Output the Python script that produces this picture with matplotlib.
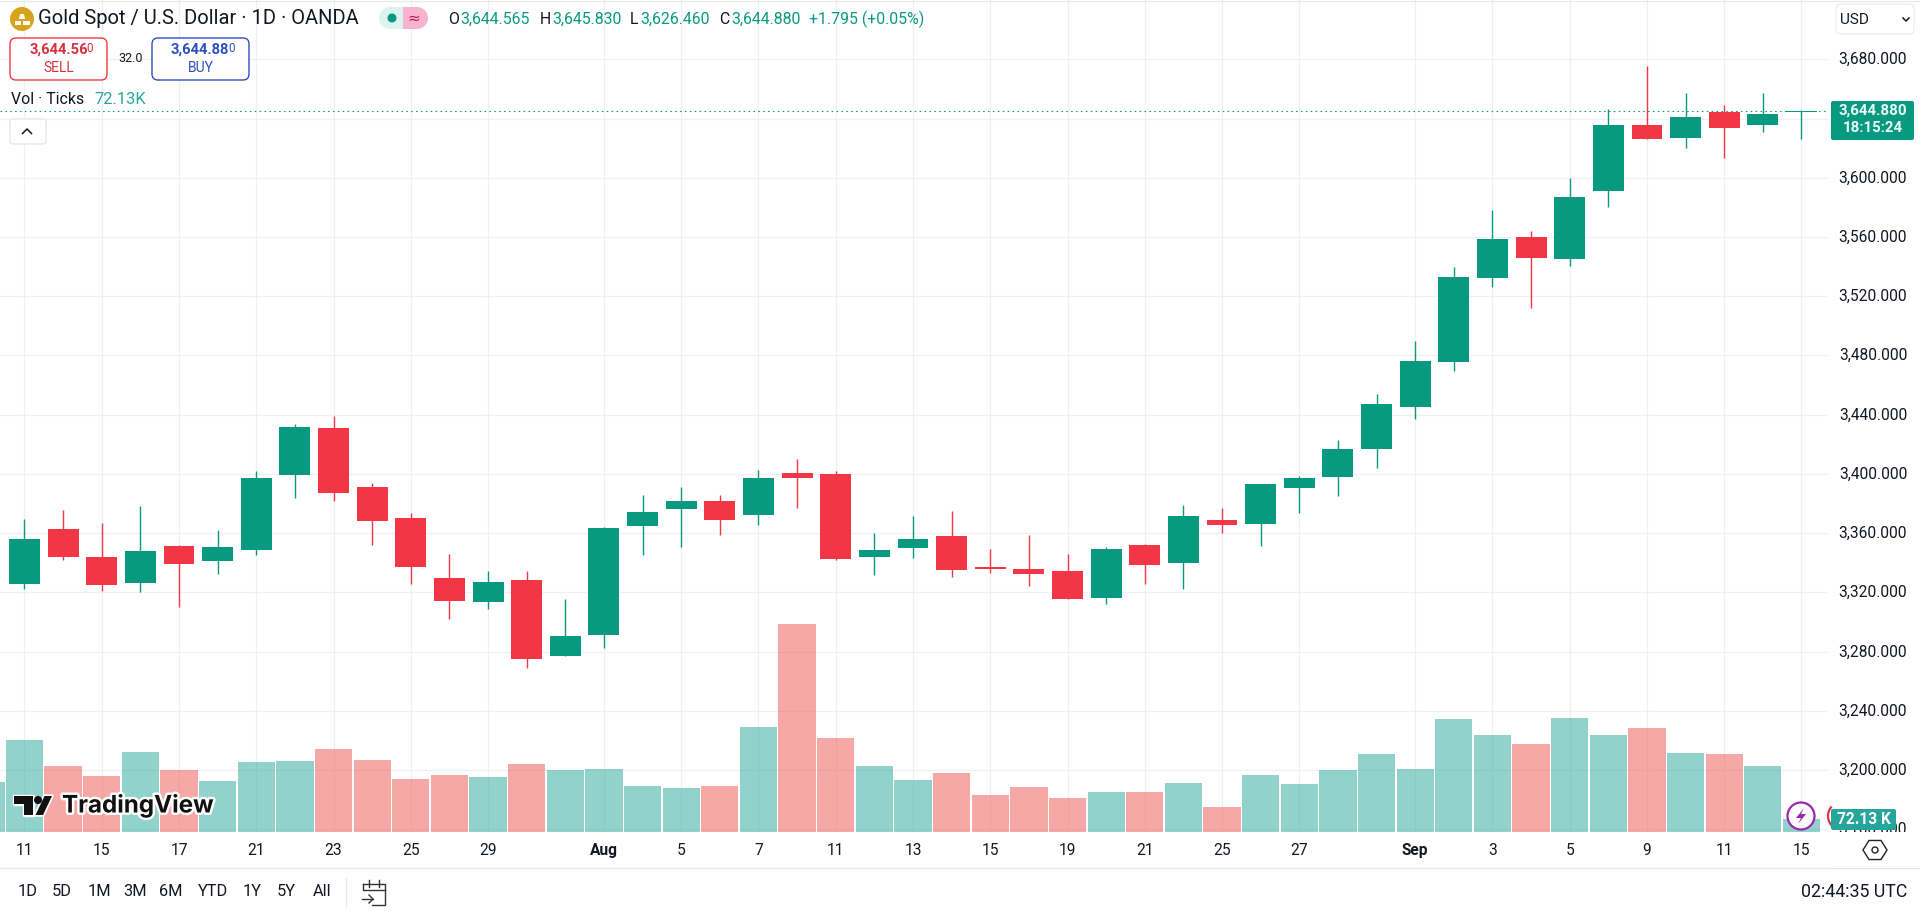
import matplotlib
matplotlib.use("Agg")
import matplotlib.pyplot as plt
import matplotlib.patheffects as pe
from matplotlib.patches import Rectangle, FancyBboxPatch, Circle, Polygon, Wedge
from matplotlib.transforms import ScaledTranslation
import numpy as np

opens = [3325.6,3362.6,3343.6,3326.3,3351.1,3341.2,3348.6,3399.2,3430.8,3390.9,3370.0,3329.5,3313.5,3328.1,3277.0,3291.2,
         3364.8,3376.3,3381.5,3372.2,3400.4,3399.7,3343.9,3349.9,3357.8,3337.1,3335.5,3334.2,3316.2,3351.7,3339.8,3368.6,
         3366.0,3390.3,3397.7,3416.7,3445.0,3475.4,3532.2,3560.3,3545.0,3591.0,3636.0,3626.8,3644.4,3635.6,3644.565]
highs = [3369.3,3375.4,3366.6,3378.1,3352.2,3361.9,3401.7,3433.5,3438.9,3393.6,3373.8,3345.9,3334.2,3334.2,3315.3,3363.9,
         3385.5,3390.9,3385.5,3402.4,3409.8,3401.7,3359.8,3371.3,3374.7,3349.3,3358.5,3345.7,3350.4,3352.4,3378.8,3376.7,
         3393.5,3398.6,3423.2,3454.3,3489.8,3540.0,3578.5,3564.4,3600.2,3646.6,3675.5,3657.6,3649.5,3657.0,3645.83]
lows  = [3322.0,3341.8,3320.9,3320.0,3310.1,3332.4,3345.0,3383.7,3381.7,3352.0,3325.6,3301.8,3308.7,3268.9,3277.0,3282.4,
         3345.2,3350.4,3358.5,3365.3,3377.0,3341.8,3331.7,3343.0,3330.4,3333.1,3324.3,3315.5,3312.1,3325.6,3322.3,3359.8,
         3351.6,3373.9,3384.9,3404.3,3437.4,3469.8,3526.5,3511.9,3540.3,3580.2,3626.1,3620.0,3613.3,3630.8,3626.46]
closes= [3355.8,3343.9,3325.0,3347.7,3339.1,3350.4,3397.0,3431.4,3387.1,3368.2,3337.1,3314.1,3326.8,3275.0,3290.3,3363.2,
         3374.0,3381.5,3368.9,3397.0,3397.2,3342.5,3348.4,3355.8,3335.1,3335.5,3332.4,3315.5,3349.0,3338.5,3371.3,3365.5,
         3393.5,3397.5,3417.1,3447.5,3476.5,3533.3,3559.0,3545.7,3587.0,3636.0,3626.1,3640.8,3633.5,3642.8,3644.88]
# Tick volume in thousands; the first entry is the partly hidden bar before the first candle.
volumes = [284,521,373,316,453,350,288,396,401,470,407,299,322,311,384,350,356,
           259,248,259,595,1180,532,373,294,333,208,254,191,225,225,277,140,
           322,271,350,441,356,640,549,498,646,549,589,447,441,373,72.13]
vol_up = [1,1,0,0,1,0,1,1,1,0,0,0,0,1,0,1,1,
          1,1,0,1,0,0,1,1,0,0,0,0,1,0,1,0,
          1,1,1,1,1,1,1,0,1,1,0,1,0,1,1]
tick_idx = [0,2,4,6,8,10,12,15,17,19,21,23,25,27,29,31,33,36,38,40,42,44,46]
tick_lab = ["11","15","17","21","23","25","29","Aug","5","7","11","13","15","19","21","25","27","Sep","3","5","9","11","15"]
price_ticks = list(range(3160, 3681, 40))
hidden_price = 3640  # sits behind the last-price tag in the reference
last_price = 3644.88

GREEN="#089981"; RED="#F23645"; INK="#131722"; GRID="#EEF0F3"
plt.rcParams['font.family'] = ['Roboto', 'DejaVu Sans']
W,H = 1920,911
fig = plt.figure(figsize=(W/100,H/100), dpi=100, facecolor="white")

left,right,top,bottom = 0,1828,0,832
ax = fig.add_axes([left/W, 1-bottom/H, (right-left)/W, (bottom-top)/H])
ax.set_xlim((0-24.5)/38.63, (1828-24.5)/38.63)
ax.set_ylim(3680-(832-59.4)/1.4805, 3680+59.4/1.4805)
for s in ax.spines.values(): s.set_visible(False)
ax.set_axisbelow(True)
ax.grid(True, color=GRID, lw=0.9)

x = np.arange(len(opens))
cols = [GREEN if c>=o else RED for o,c in zip(opens,closes)]
ax.axhline(last_price, color=GREEN, lw=0.8, ls=(0,(1.4,3)), zorder=1)
ax.vlines(x, lows, highs, colors=cols, lw=1.0, zorder=2)
ax.bar(x, np.abs(np.array(closes)-np.array(opens)), bottom=np.minimum(opens,closes), width=0.80, color=cols, lw=0, zorder=3)

axv = ax.twinx()
axv.set_ylim(0, (bottom-top)*5.68)
axv.patch.set_visible(False)
for s in axv.spines.values(): s.set_visible(False)
axv.set_yticks([])
xv = np.arange(-1, len(volumes)-1)
axv.bar(xv, volumes, width=0.965, lw=0, color=["#26A69A" if u else "#EF5350" for u in vol_up], alpha=0.5)

ax.set_xticks(tick_idx)
ax.set_xticklabels(tick_lab, fontsize=11.2, color=INK, va="center")
for t,l in zip(ax.get_xticklabels(), tick_lab):
    if l in ("Aug","Sep"): t.set_fontweight("bold")
ax.tick_params(axis="x", length=0, pad=13)
ax.yaxis.tick_right()
ax.set_yticks(price_ticks)
ax.set_yticklabels(["" if p==hidden_price else f"{p:,.3f}" for p in price_ticks], fontsize=11.2, color=INK, ha="right")
ax.tick_params(axis="y", length=0, pad=57)
shift = ScaledTranslation(0, 1.2/100, fig.dpi_scale_trans)
for t in ax.get_yticklabels():
    t.set_transform(t.get_transform() + shift)
ax.set_zorder(1); axv.set_zorder(2)

# Interface overlay in pixel coordinates
ui = fig.add_axes([0,0,1,1], zorder=10)
ui.set_xlim(0,W); ui.set_ylim(H,0); ui.axis("off"); ui.patch.set_visible(False)
def T(px,py,s,size=10.5,c=INK,ha="left",w="normal",z=12,**k):
    return ui.text(px,py,s,fontsize=size,color=c,ha=ha,va="center",fontweight=w,zorder=z,**k)
def box(x0,y0,x1,y1,fc="white",ec="none",lw=1,r=4,z=11):
    p=FancyBboxPatch((x0+r,y0+r),x1-x0-2*r,y1-y0-2*r,boxstyle=f"round,pad={r},rounding_size={r}",fc=fc,ec=ec,lw=lw,zorder=z)
    ui.add_patch(p); return p

ui.add_patch(Rectangle((1829,832),91,36,fc="white",ec="none",zorder=9))
ui.plot([0,W],[0.5,0.5],color="#E6E8EC",lw=0.8,zorder=2)
ui.plot([0,W],[867.5,867.5],color="#E6E8EC",lw=0.9,zorder=2)

# Header
ui.add_patch(Circle((22,19),12,fc="#D9A21B",ec="none",zorder=11))
ui.add_patch(Polygon([(19,19),(25,19),(24,14),(20,14)],fc="white",ec="none",zorder=12))
ui.add_patch(Rectangle((14.5,20.5),6.5,4,fc="white",ec="none",zorder=12))
ui.add_patch(Rectangle((23,20.5),6.5,4,fc="white",ec="none",zorder=12))
T(38,19,"Gold Spot / U.S. Dollar · 1D · OANDA",14.5)
ui.add_patch(Wedge((390,18),11,90,270,fc="#DDF3F0",ec="none",zorder=11))
ui.add_patch(Rectangle((390,7),13,22,fc="#DDF3F0",ec="none",zorder=11))
ui.add_patch(Rectangle((403,7),14,22,fc="#F8B4CF",ec="none",zorder=11))
ui.add_patch(Wedge((417,18),11,-90,90,fc="#F8B4CF",ec="none",zorder=11))
ui.add_patch(Circle((392,18),4.5,fc=GREEN,ec="none",zorder=12))
T(413.5,18,"≈",11,"#C2185B",ha="center",family=["DejaVu Sans"])
for lab,lx,val,vx in [("O",448,"3,644.565",460),("H",540,"3,645.830",552),("L",630,"3,626.460",640),("C",719,"3,644.880",731)]:
    T(lx,19,lab,11.4,INK); T(vx,19,val,11.4,GREEN)
T(809,19,"+1.795 (+0.05%)",11.4,GREEN)

box(10,38,107,80,ec=RED,lw=1.0,r=6)
T(59,50,"3,644.56",10.6,"#D6323F",ha="center",w="bold"); T(90,49,"0",8.5,"#D6323F",ha="center")
T(58.5,68,"SELL",10,"#D6323F",ha="center")
box(152,38,249,80,ec="#2D4FBF",lw=1.0,r=6)
T(200,50,"3,644.88",10.6,"#2D4FBF",ha="center",w="bold"); T(232,49,"0",8.5,"#2D4FBF",ha="center")
T(200.5,68,"BUY",10,"#2D4FBF",ha="center")
T(131,59,"32.0",9,INK,ha="center")
T(11,100,"Vol · Ticks",11.4,INK); T(94,100,"72.13K",11.8,"#26A69A")
box(10,119,46,144,ec="#E3E5EA",lw=0.9,r=3)
ui.plot([22.5,27,31.5],[133.5,129,133.5],color=INK,lw=1.1,zorder=12)

# Currency selector
box(1836,4,1914,34,ec="#EBEDF0",lw=0.9,r=5)
T(1840,19.5,"USD",11,INK)
ui.plot([1903,1906,1909],[18,21,18],color=INK,lw=1.1,zorder=12)

# Last price tag
box(1831,101,1914,140,fc=GREEN,r=2)
T(1873,110.5,"3,644.880",10.8,"#E9FBF7",ha="center",w="bold")
T(1873,128.5,"18:15:24",10.8,"#E9FBF7",ha="center",w="bold")

# Bottom-right markers and volume tag
th = np.deg2rad(np.linspace(142,218,30))
ui.plot(1842+14*np.cos(th),816+14*np.sin(th),color="#D8364A",lw=1.6,zorder=10)
box(1831,809,1896,830,fc="#26A69A",r=2)
T(1863.5,820,"72.13 K",11.2,"white",ha="center",w="bold")
ui.add_patch(Circle((1801,816),13.5,fc="#FFFFFF",ec="#9C27B0",lw=1.6,zorder=11))
ui.add_patch(Polygon([(1804,808),(1796,818),(1801,818),(1798,824),(1806,814),(1801,814)],fc="#9C27B0",ec="none",zorder=12))

# TradingView watermark
for pts in ([(14,796),(33,796),(33,815),(24,815),(24,804),(14,804)],[(44.5,796),(52,796),(43,815),(35.5,815)]):
    ui.add_patch(Polygon(pts,fc="#111111",ec="white",lw=2.5,zorder=11,joinstyle="round"))
    ui.add_patch(Polygon(pts,fc="#111111",ec="none",zorder=12))
ui.add_patch(Circle((38,800),4,fc="#111111",ec="none",zorder=12))
T(62,806,"TradingView",17.4,"#111111",w="bold",family=["Inter","Roboto"],
  path_effects=[pe.withStroke(linewidth=3.5,foreground="white")])

# Bottom toolbar
for lab,cx in [("1D",27.5),("5D",62),("1M",99),("3M",135),("6M",171),("YTD",213),("1Y",252),("5Y",286.5),("All",322)]:
    T(cx,892,lab,11.8,INK,ha="center")
ui.plot([346,346],[878,906],color="#E6E8EC",lw=0.9,zorder=12)
ui.plot([363,385,385,372],[884,884,905,905],color="#333",lw=1.0,zorder=12)
ui.plot([363,363,385],[884,890,890],color="#333",lw=1.0,zorder=12)
ui.plot([369,369],[880,887],color="#333",lw=1.0,zorder=12)
ui.plot([379,379],[880,887],color="#333",lw=1.0,zorder=12)
ui.plot([362,373],[899,899],color="#333",lw=1.0,zorder=12)
ui.plot([369,373,369],[895,899,903],color="#333",lw=1.0,zorder=12)
T(1907,892,"02:44:35 UTC",12.8,INK,ha="right")
ang = np.deg2rad(np.arange(0,360,60))
ui.add_patch(Polygon(np.c_[1875+12*np.cos(ang),850+11*np.sin(ang)],fc="white",ec="#222",lw=1.0,zorder=12))
ui.add_patch(Circle((1875,850),3,fc="white",ec="#222",lw=1.0,zorder=13))

fig.savefig("out.png", dpi=100)
